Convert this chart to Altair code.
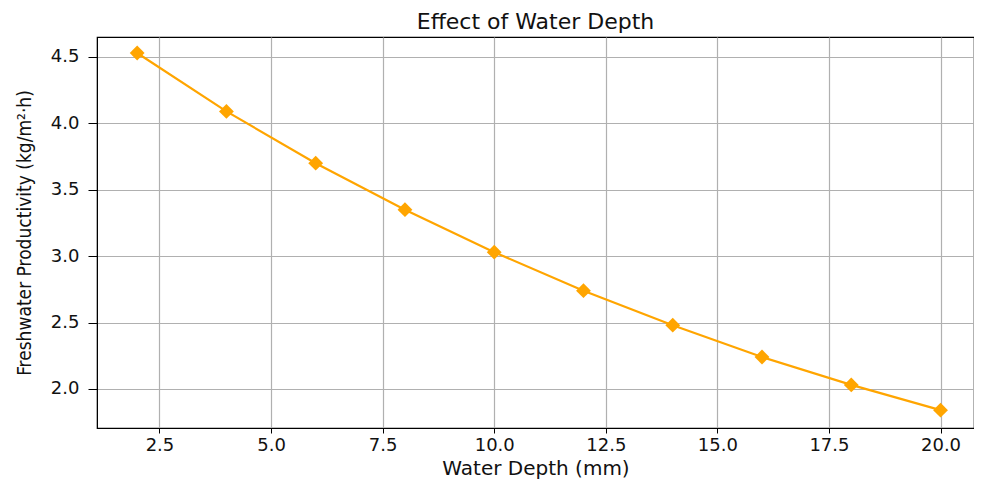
import altair as alt
import pandas as pd

depth = [2, 4, 6, 8, 10, 12, 14, 16, 18, 20]
productivity = [4.53, 4.09, 3.70, 3.35, 3.03, 2.74, 2.48, 2.24, 2.03, 1.84]

df = pd.DataFrame({"depth": depth, "prod": productivity})

x_ticks = [2.5, 5.0, 7.5, 10.0, 12.5, 15.0, 17.5, 20.0]
y_ticks = [2.0, 2.5, 3.0, 3.5, 4.0, 4.5]

FONT = "DejaVu Sans"

x = alt.X("depth:Q",
          scale=alt.Scale(domain=[1.1, 20.75], nice=False, zero=False),
          axis=alt.Axis(values=x_ticks, format=".1f", title="Water Depth (mm)",
                        titleFont=FONT, titleFontSize=20, titleFontWeight="normal",
                        titleColor="#111111", titlePadding=4,
                        labelFont=FONT, labelFontSize=18, labelColor="#111111",
                        labelPadding=3, tickSize=5, tickColor="black",
                        domainColor="black", gridColor="#b0b0b0", gridWidth=1.2))
y = alt.Y("prod:Q",
          scale=alt.Scale(domain=[1.7055, 4.6506], nice=False, zero=False),
          axis=alt.Axis(values=y_ticks, format=".1f",
                        title="Freshwater Productivity (kg/m²·h)",
                        titleFont="DejaVu Sans Condensed", titleFontSize=19,
                        titleFontWeight="normal", titleColor="#111111", titlePadding=16,
                        labelFont=FONT, labelFontSize=18, labelColor="#111111",
                        labelPadding=9, tickSize=9, tickColor="black",
                        domainColor="black", gridColor="#b0b0b0", gridWidth=1.2))

line = alt.Chart(df).mark_line(color="#FFA500", strokeWidth=2.2).encode(x=x, y=y)
pts = alt.Chart(df).mark_point(shape="diamond", filled=True, color="#FFA500",
                               size=220, opacity=1).encode(x="depth:Q", y="prod:Q")

chart = (line + pts).properties(
    width=877, height=391,
    title=alt.TitleParams("Effect of Water Depth", font=FONT, fontSize=22,
                          fontWeight="normal", color="#111111", offset=3),
    autosize=alt.AutoSizeParams(type="none"),
    padding={"left": 89, "top": 29, "right": 0, "bottom": 51},
).configure_view(stroke="black", strokeWidth=1.2)

chart.save("out.html", embed_options={"renderer": "svg", "actions": False})
